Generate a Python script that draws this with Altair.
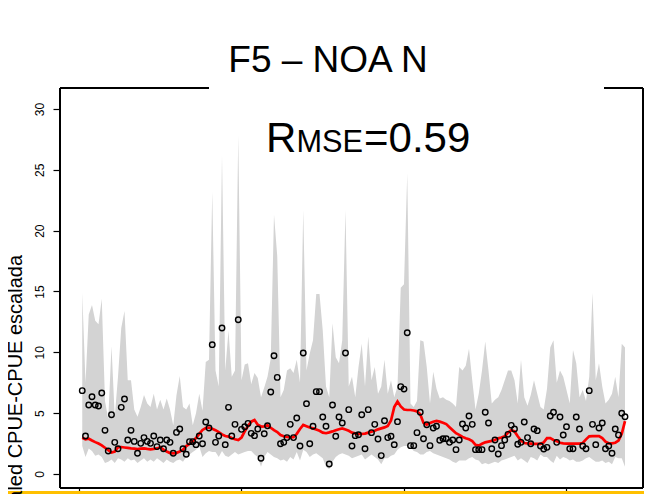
import altair as alt
import pandas as pd

# observed scaled CPUE (circles), one per time step
obs = [6.85, 3.12, 5.67, 6.35, 5.67, 5.59, 6.66, 3.59, 1.89, 4.87, 2.60, 2.08,
       5.48, 6.16, 2.79, 3.59, 2.68, 1.70, 2.52, 2.99, 2.68, 2.52, 3.12, 2.25,
       2.79, 2.08, 2.79, 2.60, 1.70, 3.42, 3.70, 2.08, 1.62, 2.66, 2.66, 2.41,
       3.12, 2.49, 4.27, 3.78, 10.63, 2.60, 3.12, 12.0, 2.41, 5.48, 3.12, 4.08,
       12.68, 3.67, 3.89, 4.16, 3.34, 3.15, 3.70, 1.29, 3.31, 3.97, 6.74, 9.72,
       7.94, 2.49, 2.60, 2.99, 4.08, 2.99, 4.60, 2.30, 9.94, 5.78, 2.49, 3.92,
       6.77, 6.77, 4.68, 3.92, 0.82, 5.67, 3.10, 4.68, 4.19, 9.94, 5.29, 2.30,
       3.15, 3.23, 4.87, 2.08, 5.29, 3.40, 4.08, 2.88, 1.51, 4.38, 2.99, 3.10,
       2.41, 4.30, 7.18, 6.98, 11.61, 2.33, 2.33, 3.40, 5.07, 2.90, 4.05, 2.33,
       3.78, 3.92, 2.77, 2.90, 2.90, 2.60, 2.79, 2.00, 2.79, 4.11, 3.78, 4.77,
       4.08, 2.00, 2.00, 2.00, 5.07, 4.19, 2.08, 2.79, 1.64, 2.33, 2.79, 3.26,
       4.00, 3.70, 2.44, 2.60, 4.27, 2.99, 2.49, 3.70, 3.56, 2.30, 2.05, 2.19,
       4.77, 5.07, 2.60, 4.68, 3.20, 3.89, 2.08, 2.08, 4.68, 3.70, 2.30, 2.08,
       6.85, 4.08, 2.41, 3.78, 4.19, 2.08, 2.30, 1.70, 3.70, 3.20, 4.99, 4.71]

# model fit (red line)
fit = [2.98, 2.85, 2.90, 2.75, 2.62, 2.50, 2.35, 2.16, 1.95, 1.76, 1.85, 2.20,
       2.22, 2.18, 2.14, 2.10, 2.08, 2.05, 2.08, 2.10, 2.06, 2.03, 2.06, 2.10,
       2.20, 2.00, 1.85, 1.72, 1.70, 1.74, 1.85, 2.00, 2.30, 2.47, 2.70, 2.95,
       3.30, 3.62, 3.78, 3.82, 3.72, 3.60, 3.45, 3.25, 3.12, 3.07, 2.95, 2.85,
       2.79, 3.00, 3.50, 3.95, 4.30, 4.44, 4.05, 3.90, 3.92, 4.00, 3.80, 3.60,
       3.45, 3.20, 3.10, 3.05, 3.01, 3.02, 3.30, 3.70, 4.03, 3.93, 3.82, 3.75,
       3.65, 3.55, 3.40, 3.35, 3.42, 3.50, 3.60, 3.68, 3.75, 3.65, 3.55, 3.40,
       3.34, 3.30, 3.29, 3.32, 3.40, 3.48, 3.55, 3.67, 3.75, 3.83, 3.95, 4.40,
       5.50, 5.95, 5.55, 5.30, 5.26, 5.26, 5.22, 5.15, 4.90, 4.20, 4.05, 4.20,
       4.30, 4.36, 4.30, 4.22, 4.10, 3.85, 3.60, 3.35, 3.22, 3.05, 2.93, 2.85,
       2.70, 2.40, 2.33, 2.48, 2.60, 2.66, 2.72, 2.80, 2.93, 3.00, 3.10, 3.40,
       3.62, 3.50, 3.10, 2.75, 2.55, 2.52, 2.50, 2.48, 2.47, 2.48, 2.60, 2.95,
       2.95, 2.80, 2.70, 2.57, 2.52, 2.50, 2.50, 2.50, 2.50, 2.50, 2.55, 2.85,
       3.10, 3.12, 3.12, 3.12, 2.95, 2.65, 2.52, 2.52, 2.57, 2.75, 3.30, 4.35]

# band limits (grey polygon)
upper = [14.9, 7.5, 13.1, 13.9, 12.6, 12.3, 14.4, 6.0, 4.5, 10.5, 4.7, 8.0,
         12.0, 13.4, 7.7, 7.7, 5.3, 4.7, 5.5, 6.5, 5.8, 5.5, 6.6, 5.3,
         6.1, 5.3, 6.2, 5.3, 4.0, 6.5, 8.05, 5.5, 5.3, 5.8, 4.0, 5.0,
         6.6, 5.2, 9.2, 9.4, 23.2, 8.5, 7.2, 26.2, 8.5, 11.8, 8.0, 8.5,
         27.8, 7.7, 9.0, 9.1, 7.4, 8.3, 7.9, 6.3, 7.1, 8.0, 9.5, 21.3,
         17.9, 6.3, 6.9, 8.5, 8.7, 8.3, 9.4, 7.5, 21.7, 8.5, 9.9, 11.0,
         14.8, 14.8, 11.8, 7.2, 6.3, 12.4, 9.6, 9.1, 11.0, 21.7, 7.2, 8.0,
         6.3, 8.8, 10.7, 7.2, 11.3, 7.7, 8.8, 6.6, 7.2, 9.4, 6.6, 7.7,
         6.3, 7.2, 15.3, 15.6, 24.7, 5.8, 5.5, 6.0, 11.0, 10.9, 8.8, 5.8,
         8.4, 7.0, 6.2, 6.3, 6.1, 6.0, 5.8, 5.5, 8.8, 8.5, 8.9, 10.3,
         7.7, 5.3, 6.6, 8.5, 10.9, 8.5, 5.8, 6.1, 6.3, 6.9, 7.7, 8.5,
         8.5, 7.7, 5.8, 9.4, 6.3, 5.6, 6.5, 7.7, 6.6, 5.5, 5.3, 7.0,
         10.4, 11.0, 7.5, 8.5, 8.0, 6.9, 5.8, 10.2, 9.1, 6.3, 6.9, 6.0,
         8.0, 14.9, 7.7, 9.1, 7.2, 5.8, 6.1, 6.6, 8.0, 6.3, 10.7, 10.4]

lower = [2.3, 1.4, 2.1, 1.9, 1.5, 1.6, 1.4, 0.9, 1.0, 1.2, 0.9, 1.3,
         1.2, 1.0, 1.3, 1.1, 1.2, 0.9, 1.1, 1.3, 1.0, 1.2, 1.0, 1.3,
         1.1, 0.9, 1.2, 1.0, 0.9, 1.1, 1.2, 1.0, 1.4, 1.6, 1.8, 2.0,
         2.25, 1.4, 1.7, 1.9, 1.8, 1.8, 1.4, 1.9, 1.5, 1.4, 1.6, 1.8,
         1.6, 1.7, 1.8, 1.9, 1.9, 1.6, 1.4, 0.6, 1.4, 1.8, 1.6, 1.4,
         1.3, 1.1, 1.2, 1.0, 1.4, 1.2, 1.8, 1.1, 2.0, 1.8, 1.4, 1.6,
         1.7, 1.5, 1.3, 0.6, 0.4, 1.0, 1.4, 1.6, 1.7, 1.6, 1.5, 1.3,
         1.4, 1.5, 1.6, 1.2, 1.4, 1.6, 1.4, 1.2, 0.8, 1.3, 1.3, 1.5,
         1.6, 2.0, 2.2, 2.3, 2.3, 2.2, 1.9, 1.8, 1.6, 1.6, 1.8, 1.9,
         1.7, 1.6, 1.5, 1.4, 1.3, 1.2, 1.0, 0.9, 1.1, 1.1, 1.1, 1.3,
         1.4, 1.2, 1.1, 0.8, 0.9, 0.8, 0.9, 1.0, 0.9, 1.1, 1.2, 1.3,
         1.4, 1.5, 1.1, 1.3, 1.1, 0.9, 1.4, 1.3, 1.1, 1.6, 1.4, 1.4,
         1.1, 0.9, 1.5, 1.2, 1.4, 1.3, 1.1, 1.2, 1.0, 1.0, 1.1, 1.3,
         1.4, 1.2, 1.0, 1.0, 1.1, 0.9, 1.0, 0.8, 1.4, 1.3, 1.3, 0.6]

x_ticks = [0, 50, 100, 150]
y_ticks = [0, 5, 10, 15, 20, 25, 30]

source = pd.DataFrame({
    't': range(1, len(obs) + 1),
    'obs': obs, 'fit': fit, 'hi': upper, 'lo': lower,
})
one = pd.DataFrame({'k': [0]})

FONT = 'Liberation Sans'
W, H = 583, 400
X0, X1 = -5.846, 173.54
Y0, Y1 = -1.151, 31.726

xs = alt.Scale(domain=[X0, X1], nice=False, zero=False)
ys = alt.Scale(domain=[Y0, Y1], nice=False, zero=False)

# plot box in data units: left, right, bottom, and the top edge broken under the title
box = pd.DataFrame({
    'x': [X0, X1, X0, X0, 161.54],
    'x2': [X0, X1, X1, 40.0, X1],
    'y': [Y0, Y0, Y0, Y1, Y1],
    'y2': [Y1, Y1, Y0, Y1, Y1],
})

band = alt.Chart(source).mark_area(color='#d3d3d3', opacity=1).encode(
    alt.X('t:Q', scale=xs, axis=alt.Axis(values=x_ticks, labels=False, tickSize=7,
                                         tickColor='black', tickWidth=1.2, domain=False,
                                         grid=False, title=None)),
    alt.Y('hi:Q', scale=ys, axis=alt.Axis(values=y_ticks, labelAngle=270, labelAlign='center',
                                          labelBaseline='alphabetic', labelPadding=10,
                                          tickSize=7, tickColor='black', tickWidth=1.2,
                                          labelColor='black', labelFont=FONT, labelFontSize=12,
                                          labelOverlap=False, domain=False, grid=False,
                                          title=None)),
    alt.Y2('lo:Q')
)

line = alt.Chart(source).mark_line(color='red', strokeWidth=2.7).encode(
    x=alt.X('t:Q', scale=xs),
    y=alt.Y('fit:Q', scale=ys)
)

pts = alt.Chart(source).mark_point(shape='circle', filled=False, color='black',
                                   size=30, strokeWidth=1.4, opacity=1).encode(
    x=alt.X('t:Q', scale=xs),
    y=alt.Y('obs:Q', scale=ys)
)

frame = alt.Chart(box).mark_rule(color='black', strokeWidth=2, clip=False).encode(
    x=alt.X('x:Q', scale=xs), x2='x2:Q',
    y=alt.Y('y:Q', scale=ys), y2='y2:Q'
)

strip = alt.Chart(one).mark_rect(color='#FFC000').encode(
    x=alt.value(-52), x2=alt.value(W + 1), y=alt.value(403), y2=alt.value(406)
)

title = alt.Chart(one).mark_text(text='F5 – NOA N', font=FONT, fontSize=37,
                                 align='center', baseline='alphabetic').encode(
    x=alt.value(268), y=alt.value(-16)
)

r_big = alt.Chart(one).mark_text(text='R', font=FONT, fontSize=42,
                                 align='left', baseline='alphabetic').encode(
    x=alt.value(206), y=alt.value(64)
)
r_small = alt.Chart(one).mark_text(text='MSE', font=FONT, fontSize=30.7,
                                   align='left', baseline='alphabetic').encode(
    x=alt.value(236.5), y=alt.value(64)
)
r_val = alt.Chart(one).mark_text(text='=0.59', font=FONT, fontSize=42,
                                 align='left', baseline='alphabetic').encode(
    x=alt.value(304), y=alt.value(64)
)

ylab = alt.Chart(one).mark_text(text='Scaled CPUE-CPUE escalada', font=FONT, fontSize=20,
                                angle=270, align='center', baseline='alphabetic').encode(
    x=alt.value(-38), y=alt.value(302)
)

chart = alt.layer(
    band, line, pts, strip, title, r_big, r_small, r_val, ylab, frame
).properties(
    width=W, height=H,
    padding={'left': 52, 'top': 80, 'right': 1, 'bottom': 6},
    autosize=alt.AutoSizeParams(type='none'),
    background='white'
).configure_view(stroke=None)

chart.save("out.html", embed_options={"renderer": "svg", "actions": False})
